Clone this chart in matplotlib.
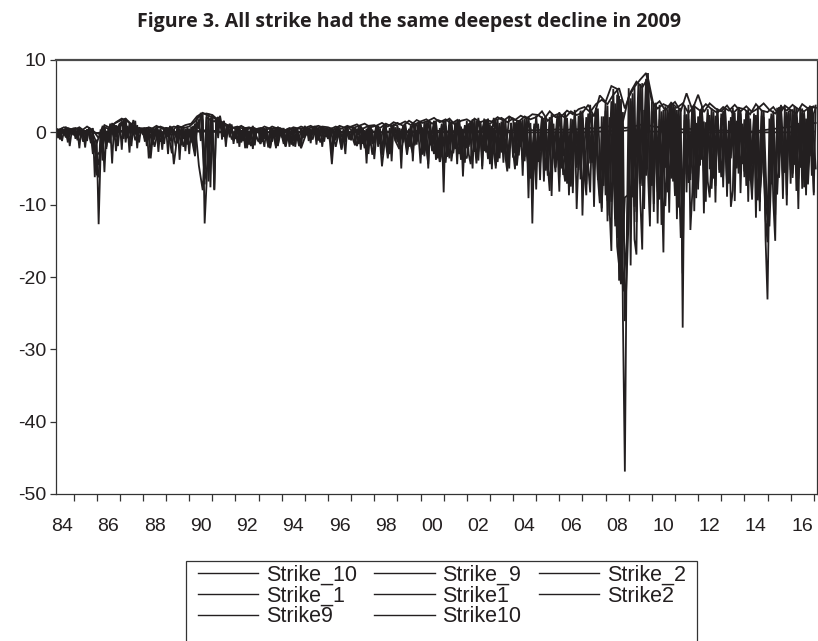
import numpy as np
import matplotlib
matplotlib.use("Agg")
import matplotlib.pyplot as plt
from matplotlib.lines import Line2D
from matplotlib.patches import Rectangle
from matplotlib.ticker import FixedLocator, FuncFormatter

plt.rcParams['axes.unicode_minus'] = False

# monthly series, first value is April 1984
strike_m10 = [
    0.3, -0.8, 0.5, -1.2, 0.2, -0.5, 0.6, -1.9, 0.1,
    -0.4, 0.5, -1.1, 0.3, -0.6, 0.2, -2.1, 0.4, -0.3, -1.5, 0.6, -6.2,
    -1.0, -12.7, -3.0, 0.5, -5.5, 0.2, -1.2, 0.8, -4.3, 1.1, -2.6, 0.4,
    1.3, -2.4, 1.8, -1.4, 0.9, -2.8, 1.2, -0.4, 1.6, -2.2, 0.7, 0.2,
    -0.3, 0.6, -1.9, 0.4, -3.6, -0.8, 0.5, -0.2, -1.1, 0.3, -2.4, 0.6,
    -0.5, 0.7, -1.4, -2.9, 0.4, -0.6, 1.0, -3.8, 0.2, -0.9, 0.5, -1.7,
    0.3, -1.4, 0.9, -3.0, 0.6, 1.8, -1.2, 2.4, -12.6, -7.0, 2.6, -7.6,
    2.2, -8.0, 1.9, 0.6, 2.3, -1.0, 1.5, -2.0, 0.9, -0.4, 1.1, -1.2,
    -0.6, 0.8, -2.0, 0.3, -1.1, 0.6, -2.2, 0.2, -0.7, 0.9, -1.8, 0.4,
    0.2, -1.5, 0.7, -0.9, 0.3, -2.1, 0.6, -1.3, 0.4, -2.2, 0.8, -0.5,
    0.5, -1.2, -1.9, 0.3, -0.6, -1.4, 0.7, -2.0, 0.2, -1.1, 0.5, -0.8,
    0.9, -0.4, 0.6, -1.5, 0.8, -0.3, 0.4, -1.1, 0.7, -2.0, 0.3, -0.2,
    0.5, -1.3, -4.4, -1.0, 0.6, -0.7, 0.4, -1.5, -0.5, -3.0, 0.8, 0.6,
    0.3, -1.0, -1.8, 0.5, -0.4, 0.9, -1.6, 0.3, -4.3, 0.7, -1.8, 0.4,
    -3.7, -0.6, 0.4, -1.3, -4.7, -2.3, 0.9, -1.9, -2.1, 1.1, -0.5, 0.7,
    -1.4, 0.6, -5.0, 0.9, -0.8, -2.3, 0.5, -1.9, -2.9, 0.8, 1.2, -0.6,
    -4.3, 0.7, -2.6, 1.3, -5.0, 1.5, -2.0, 1.2, -3.8, -1.1, -4.1, 0.9,
    -8.3, 1.6, -2.6, 1.0, -4.0, -1.9, 1.4, -1.8, -3.0, 0.8, -6.1, -0.5,
    -2.2, 1.2, -0.9, -5.0, 1.8, -3.3, -2.6, 1.5, -5.1, 1.9, -0.6, -3.7,
    1.1, -5.1, 0.6, -5.0, -1.5, 1.3, -2.8, 0.8, -3.3, -5.4, -1.2, 0.9,
    -3.5, 1.4, -4.2, 0.7, -2.0, 1.8, -4.0, 1.2, -9.1, 0.6, -12.6, -1.0,
    -7.9, 1.0, -2.6, 1.7, -6.8, 0.8, -3.5, 2.1, -8.8, 1.2, -4.9, -1.9,
    -8.2, 2.4, -4.7, -6.8, 1.5, -8.7, 0.6, -4.0, 2.6, -10.6, -3.2, 2.8,
    -11.5, -2.3, 2.1, -4.6, -8.3, 1.2, -5.5, 3.0, -6.6, -3.6, -11.0, 1.4,
    -8.7, 3.7, -10.2, -16.4, 4.2, -12.0, 5.2, -20.5, 4.6, -25.8, -46.9, -14.5,
    6.1, -18.4, 3.5, -14.8, -16.9, 4.8, -9.2, -16.2, 3.1, -6.0, 8.2, -11.8,
    2.9, -11.0, 4.0, -12.6, 1.8, -5.4, -16.6, 3.6, -8.3, 2.7, -6.4, 3.9,
    -6.9, 2.5, -10.4, 3.4, -27.0, 1.7, -5.8, 3.8, -13.5, -8.3, 3.0, -9.1,
    2.2, -4.6, 3.6, -11.2, 1.4, -6.8, -9.0, -3.5, 2.9, -9.7, 3.3, -5.2,
    2.0, -7.6, 3.1, -3.9, 1.6, -10.3, -8.0, 2.7, -5.0, 3.5, -8.4, 1.2,
    -6.2, 3.0, -9.6, 1.9, -4.4, 2.6, -11.8, 0.9, -8.2, -5.5, 2.1, -14.8,
    -23.1, -6.0, 2.2, -9.5, -15.0, 3.4, -6.3, 1.5, -9.2, 3.6, -8.7, 2.5,
    -7.1, 3.2, -4.5, 1.8, -10.6, 3.5, -7.8, 2.8, -8.7, 3.4, -3.3, 3.6,
    -8.7, 3.7,
]

strike_m9 = [
    -0.5, 0.4, -1.0, 0.6, -0.3, 0.8, -1.4, 0.5, -0.2,
    0.6, -0.9, 0.4, -2.2, 0.5, -0.7, 0.3, -1.2, 0.7, -0.4, -3.0, -1.1,
    -5.8, -6.2, 0.4, -3.9, 0.9, -2.3, 0.6, -1.5, 1.3, -0.8, 1.0, -1.9,
    0.8, 1.5, -0.9, 1.9, -0.6, 1.2, -1.9, 0.9, -0.3, 1.0, -1.4, 0.5,
    0.4, -1.3, 0.7, -3.6, -2.2, 0.6, -1.0, 0.8, -2.7, 0.5, -0.4, -1.6,
    0.6, -3.0, 0.9, -1.1, -4.4, -2.3, 0.7, -0.6, -1.8, 0.8, -2.6, 0.4,
    -3.0, 0.8, -1.9, -3.3, 1.4, 0.5, 2.7, 1.6, -7.2, 2.5, -6.8, 1.8,
    2.4, -7.9, 2.0, -0.8, 2.2, 0.4, 1.6, -1.3, 1.0, -0.7, 0.9, -1.6,
    0.7, -1.5, 0.5, -0.9, 0.8, -2.2, 0.4, -1.0, 0.6, -2.3, 0.5, -0.8,
    -1.3, 0.6, -0.7, -2.0, 0.5, -1.1, -2.2, 0.4, -0.8, 0.7, -1.9, 0.3,
    -0.7, 0.6, -1.6, 0.4, -2.0, 0.5, -0.9, -1.6, 0.6, -1.3, -2.1, 0.4,
    -0.6, 0.7, -1.2, 0.5, -0.4, 0.9, -1.7, 0.6, -0.5, 0.8, -1.3, 0.5,
    -0.8, 0.6, -3.2, 0.4, -1.1, 0.7, -0.6, -2.2, 0.5, -1.4, 0.6, -0.5,
    -0.9, 0.7, -1.2, -0.4, 0.8, -2.4, 0.6, -1.1, 0.5, -3.0, 0.8, -1.6,
    -0.7, 0.9, -2.0, 0.5, -3.2, 0.7, -1.5, -2.8, 0.6, -4.0, 1.0, -1.2,
    0.8, -2.2, 0.5, -1.4, 1.0, -2.6, -0.8, 0.9, -4.0, 1.2, -1.7, 1.4,
    0.9, -3.1, 1.5, -2.2, -4.4, 0.8, -1.5, -3.0, 1.4, -2.4, 0.6, -3.2,
    -4.6, 0.9, -1.9, -3.6, 1.5, -2.4, 0.7, -4.4, 1.2, -2.9, 0.5, -4.2,
    1.6, -3.0, -4.4, 0.8, -2.0, 1.6, -3.9, 0.9, -4.7, 0.6, -2.8, 1.4,
    -4.4, 0.9, -2.8, -4.6, 1.7, -3.6, 0.7, -4.2, 1.8, -2.1, -5.0, 1.3,
    -2.6, -5.1, 1.6, -3.2, 0.9, -6.0, 1.9, -2.8, -4.9, 1.3, -7.6, 0.8,
    -4.8, 1.2, -6.6, 0.7, -3.4, 2.0, -4.5, -8.1, 1.4, -2.8, -5.5, 1.8,
    -6.2, 0.9, -3.3, 1.8, -7.1, -2.6, 1.9, -8.4, 0.6, -4.9, 2.3, -6.5,
    2.0, -5.8, -8.7, 1.5, -4.3, 2.6, -10.3, 0.9, -6.2, -9.8, 2.2, -7.4,
    3.0, -12.3, 2.1, -9.6, -6.1, 4.0, -14.6, 1.6, -20.8, 2.8, -26.1, -19.6,
    -11.5, 4.3, -9.0, 6.3, -12.4, 2.0, -7.1, 6.8, -10.6, 3.9, -5.4, -13.0,
    4.2, -9.9, 2.1, -6.5, 3.8, -12.8, 1.4, -4.9, 3.2, -11.1, 2.0, -6.8,
    3.5, -12.0, 0.9, -4.6, -19.5, 3.7, -8.3, 1.8, -5.7, 3.4, -10.9, 1.3,
    -7.9, 3.0, -3.8, 1.5, -9.6, 2.7, -5.1, 3.3, -2.9, -7.4, 1.9, -5.6,
    2.6, -6.0, 3.4, -8.9, 1.1, -3.6, 2.8, -9.5, 1.6, -5.7, 3.1, -3.0,
    1.8, -7.4, 2.7, -5.2, -9.3, 1.4, -6.6, 3.5, -10.9, 2.3, -4.7, -12.0,
    -15.2, 1.9, -7.2, 3.0, -11.4, 1.7, -4.2, 3.8, -6.5, 2.2, -10.1, 2.9,
    3.0, -5.7, 2.4, -8.1, 1.3, -4.3, 3.3, -7.6, 1.9, -5.5, 3.2, -6.0,
    2.6, 3.4,
]

# every second month, first value April 1984
strike_m2 = [
    0.2, -0.6, 0.4, -1.0, 0.3,
    -0.5, 0.6, -1.3, 0.4, -0.8, -2.4,
    -4.5, 0.6, -2.0, 1.2, -0.9, 0.8,
    1.4, 0.9, -1.2, 1.7, -0.5, 0.6,
    -0.9, 0.5, -1.7, 0.7, -1.3, 0.4,
    -0.6, 0.8, -1.9, 0.5, -2.0, 0.6,
    -1.0, 1.2, -4.6, -8.0, 2.1, 1.7,
    1.5, 2.1, 0.8, -0.9, 1.2, -0.5,
    0.6, -1.4, 0.7, -1.7, 0.5, -0.7,
    -1.6, 0.6, -1.9, 0.5, -2.0, 0.7,
    -1.6, 0.5, -1.7, 0.6, -1.9, 0.3,
    0.6, -0.9, 0.7, -1.1, 0.8, -0.6,
    0.5, -1.5, 0.7, -2.4, 0.6, -1.0,
    0.8, -1.9, 0.6, -2.2, 0.9, -3.1,
    0.7, -1.6, 1.0, -3.6, 0.8, -1.2,
    -2.3, 1.0, -3.1, 0.9, -1.8, 1.3,
    -2.9, 1.4, -1.8, 1.6, -3.6, 1.2,
    -4.2, 1.7, -2.9, 1.5, -3.8, 1.0,
    -2.0, 1.8, -4.3, 1.4, -2.6, 1.9,
    -3.5, 1.6, -2.4, 1.9, -4.8, 1.3,
    -2.9, 1.7, -3.8, 2.0, -6.4, 1.2,
    -4.1, 2.2, -5.3, 1.5, -3.6, 2.4,
    -5.0, 2.7, -6.8, 1.8, -4.5, 3.0,
    -6.1, 2.6, -4.2, 3.4, -8.8, 2.2,
    -9.5, 4.3, -13.0, 5.0, -22.0, -15.2,
    4.7, -10.3, 6.6, -7.4, 7.4, -5.1,
    3.8, -8.2, 2.9, -10.2, 3.6, -4.6,
    3.1, -14.6, 2.4, -7.0, 3.7, -6.2,
    2.7, -5.5, 3.2, -7.8, 2.3, -4.0,
    3.0, -6.9, 2.1, -5.3, 3.5, -4.4,
    2.6, -6.7, 2.0, -9.4, 3.1, -10.2,
    -13.0, 2.4, -8.6, 3.3, -5.6, 2.7,
    -6.3, 3.4, -4.9, 2.6, -7.2, 3.5,
    -5.0,
]

# every second month, first value May 1984
strike_m1 = [
    -0.3, 0.5, -0.7, 0.2,
    0.4, -0.8, 0.3, -1.0, 0.5, -1.8,
    -3.2, -2.6, 0.7, -1.4, 0.9, -0.6,
    0.7, 1.6, -0.8, 1.3, -1.1, 0.4,
    0.5, -1.1, 0.6, -2.0, 0.4, -0.8,
    0.7, -1.2, 0.4, -1.5, 0.6, -0.9,
    0.5, -1.8, 1.9, 2.4, -6.5, -4.0,
    2.2, 1.8, 1.0, -0.6, 1.1, -0.9,
    -0.8, 0.7, -1.2, 0.6, -1.9, 0.4,
    0.5, -1.3, 0.6, -2.1, 0.4, -1.7,
    0.6, -2.0, 0.4, -1.9, 0.5, -2.2,
    -0.7, 0.6, -1.0, 0.8, -1.4, 0.5,
    -0.9, 0.6, -2.0, 0.5, -1.3, 0.7,
    -1.1, 0.7, -1.6, 0.6, -2.6, 0.8,
    -1.4, 0.9, -2.5, 0.7, -3.0, 1.1,
    0.9, -2.8, 1.2, -2.0, 1.4, -1.3,
    1.5, -3.3, 1.7, -2.6, 1.4, -4.1,
    1.6, -3.4, 1.2, -2.3, 1.8, -2.9,
    -3.6, 1.5, -2.7, 2.0, -3.2, 1.7,
    -2.3, 2.0, -4.1, 1.5, -3.0, 2.1,
    1.9, -4.6, 1.6, -3.4, 2.2, -5.0,
    2.3, -4.4, 1.8, -6.0, 2.5, -4.8,
    2.8, -5.9, 2.0, -7.5, 3.1, -5.2,
    3.0, -7.2, 3.8, -5.5, 3.3, -10.5,
    4.1, -11.5, 6.0, -15.8, -21.0, -9.0,
    -8.6, 5.4, -11.0, 6.7, -6.5, 7.7,
    -7.4, 4.1, -9.3, 3.1, -6.0, 4.0,
    -8.8, 3.2, -12.2, 2.5, -6.6, 3.9,
    -7.0, 3.0, -5.8, 2.4, -6.4, 3.1,
    -6.2, 2.8, -7.1, 3.4, -4.9, 2.6,
    -5.4, 3.2, -8.1, 2.4, -9.6, 3.0,
    -12.4, 2.6, -7.7, 3.5, -6.1, 2.8,
    -5.2, 3.6, -6.4, 2.7, -4.8, 3.7,
    -8.2,
]

# quarterly, first value April 1984
strike_p1 = [
    0.5, 0.2, 0.6,
    0.3, 0.7, 0.1, 0.4,
    -1.5, 0.8, 0.5, 1.2,
    1.6, 1.9, 1.1, 0.6,
    0.3, 0.7, 0.4, 0.8,
    0.5, 0.2, 0.9, 0.6,
    0.8, 1.5, 2.5, 2.6,
    2.4, 1.7, 1.3, 0.8,
    0.5, 0.9, 0.4, 0.7,
    0.3, 0.8, 0.5, 0.6,
    0.4, 0.2, 0.7, 0.5,
    0.6, 0.9, 0.5, 0.8,
    0.7, 0.4, 0.9, 0.6,
    0.8, 1.1, 0.5, 0.9,
    1.0, 0.6, 1.2, 0.8,
    1.3, 0.9, 1.6, 1.1,
    1.5, 1.8, 1.2, 1.7,
    1.4, 1.9, 1.0, 1.6,
    1.8, 1.3, -1.8, 1.5,
    1.2, 1.7, 2.0, 1.4,
    1.9, 1.5, 2.2, 1.8,
    2.1, 2.9, 1.6, 2.3,
    2.6, 2.0, 2.9, 2.4,
    2.7, 3.8, 2.2, 5.1,
    4.2, 6.4, 6.0, 1.5,
    4.9, 6.3, 7.3, 8.2,
    4.3, 3.3, 3.9, 3.5,
    4.2, 2.9, 5.4, 3.1,
    5.2, 2.8, 4.0, 3.3,
    2.9, 3.7, 2.6, 3.4,
    3.2, 2.5, 3.9, 3.0,
    2.8, 3.5, 2.4, 3.7,
    3.1, 2.6, 3.9, 3.3,
    3.6,
]

# quarterly, first value May 1984
strike_p2 = [
    0.3, 0.7, 0.4,
    0.6, 0.2, 0.8, 0.3,
    -0.8, 1.0, 0.6, 1.4,
    1.9, 1.5, 0.8, 0.5,
    0.6, 0.4, 0.9, 0.5,
    0.3, 0.8, 0.6, 1.0,
    1.2, 2.2, 2.7, 2.3,
    2.0, 1.4, 0.9, 0.6,
    0.8, 0.5, 0.7, 0.4,
    0.6, 0.3, 0.8, 0.5,
    0.2, 0.6, 0.4, 0.8,
    0.5, 0.7, 0.9, 0.6,
    0.4, 0.8, 0.5, 0.9,
    0.6, 0.9, 1.2, 0.7,
    0.9, 1.3, 0.8, 1.4,
    1.1, 1.5, 1.0, 1.7,
    1.3, 1.6, 2.0, 1.4,
    1.8, 1.2, 1.7, -1.5,
    1.1, 1.9, 1.4, 1.7,
    1.5, 2.1, 1.6, 2.2,
    1.7, 2.3, 1.9, 2.5,
    2.4, 1.8, 2.9, 2.1,
    2.2, 3.0, 2.5, 3.2,
    3.5, 2.8, 3.9, 4.5,
    3.9, 5.2, 6.1, 3.3,
    5.6, 7.0, 6.2, 7.5,
    3.6, 4.3, 3.0, 4.1,
    3.4, 4.0, 2.7, 3.6,
    3.0, 3.9, 3.2, 2.7,
    3.5, 3.0, 3.8, 2.9,
    3.6, 2.8, 3.3, 4.0,
    3.1, 2.6, 3.6, 3.0,
    3.8, 3.2, 2.9, 3.5,
    3.4,
]

# quarterly, first value May 1984
strike_p9 = [
    0.1, -0.1, 0.0,
    0.1, 0.0, -0.1, 0.1,
    -0.2, 0.1, 0.0, 0.1,
    0.2, 0.1, 0.0, 0.1,
    0.0, 0.1, -0.1, 0.0,
    0.1, 0.0, 0.1, 0.0,
    0.1, 0.2, 0.3, 0.2,
    0.2, 0.1, 0.1, 0.0,
    0.0, 0.1, 0.0, 0.1,
    0.0, 0.0, 0.1, 0.0,
    0.1, 0.0, 0.0, 0.1,
    0.0, 0.1, 0.0, 0.1,
    0.1, 0.0, 0.1, 0.0,
    0.1, 0.1, 0.0, 0.1,
    0.1, 0.0, 0.1, 0.1,
    0.1, 0.2, 0.1, 0.2,
    0.2, 0.1, 0.2, 0.2,
    0.1, 0.2, 0.1, 0.2,
    0.2, 0.1, 0.2, 0.1,
    0.2, 0.2, 0.3, 0.2,
    0.3, 0.2, 0.3, 0.3,
    0.3, 0.4, 0.3, 0.4,
    0.4, 0.3, 0.5, 0.4,
    0.5, 0.6, 0.5, 0.7,
    0.8, 0.9, 1.0, 0.6,
    0.7, 0.9, 1.1, 1.0,
    0.8, 0.7, 0.6, 0.5,
    0.6, 0.4, 0.5, 0.4,
    0.3, 0.4, 0.3, 0.2,
    0.3, 0.2, 0.2, 0.1,
    0.2, 0.1, 0.2, 0.3,
    0.4, 0.5, 0.6, 0.7,
    0.8, 0.9, 1.0, 1.2,
    1.3,
]

# quarterly, first value April 1984
strike_p10 = [
    0.0, 0.0, 0.1,
    0.0, 0.0, 0.0, 0.0,
    -0.1, 0.0, 0.0, 0.0,
    0.1, 0.0, 0.0, 0.0,
    0.0, 0.0, 0.0, 0.0,
    0.0, 0.0, 0.0, 0.0,
    0.0, 0.1, 0.1, 0.1,
    0.1, 0.0, 0.0, 0.0,
    0.0, 0.0, 0.0, 0.0,
    0.0, 0.0, 0.0, 0.0,
    0.0, 0.0, 0.0, 0.0,
    0.0, 0.0, 0.0, 0.0,
    0.0, 0.0, 0.0, 0.0,
    0.0, 0.0, 0.0, 0.0,
    0.0, 0.0, 0.0, 0.0,
    0.0, 0.0, 0.0, 0.0,
    0.0, 0.0, 0.0, 0.0,
    0.0, 0.0, 0.0, 0.0,
    0.0, 0.0, 0.0, 0.0,
    0.0, 0.0, 0.0, 0.0,
    0.0, 0.0, 0.0, 0.0,
    0.0, 0.0, 0.0, 0.0,
    0.0, 0.0, 0.0, 0.0,
    0.0, 0.0, 0.1, 0.1,
    0.1, 0.2, 0.1, 0.2,
    0.3, 0.3, 0.2, 0.2,
    0.1, 0.1, 0.1, 0.0,
    0.0, 0.0, 0.0, 0.0,
    0.0, 0.0, 0.0, 0.0,
    0.0, 0.0, 0.0, 0.0,
    0.0, 0.0, 0.0, 0.0,
    0.0, 0.0, 0.0, 0.0,
    0.0, 0.1, 0.1, 0.1,
    0.1,
]

series = [
    ("Strike_10", strike_m10, 1984 + 3 / 12, 1),
    ("Strike_9", strike_m9, 1984 + 3 / 12, 1),
    ("Strike_2", strike_m2, 1984 + 3 / 12, 2),
    ("Strike_1", strike_m1, 1984 + 4 / 12, 2),
    ("Strike1", strike_p1, 1984 + 3 / 12, 3),
    ("Strike2", strike_p2, 1984 + 4 / 12, 3),
    ("Strike9", strike_p9, 1984 + 4 / 12, 3),
    ("Strike10", strike_p10, 1984 + 3 / 12, 3),
]

y_ticks = [10, 0, -10, -20, -30, -40, -50]
year_labels = list(range(1984, 2017, 2))

ink = "#231f20"
W, H = 818, 641

fig = plt.figure(figsize=(W / 100, H / 100), dpi=100)
ax = fig.add_axes([56 / W, 1 - 494 / H, 761 / W, 434 / H])

lines = {}
for name, vals, start, step in series:
    x = start + np.arange(len(vals)) * step / 12
    (ln,) = ax.plot(x, vals, color=ink, lw=1.3, solid_joinstyle="miter")
    lines[name] = ln

ax.set_xlim(1984.24, 2017.14)
ax.set_ylim(-50, 10)

ax.xaxis.set_major_locator(FixedLocator(np.arange(1985, 2018)))
ax.xaxis.set_major_formatter(FuncFormatter(lambda v, p: ""))
ax.xaxis.set_minor_locator(FixedLocator([y + 0.5 for y in year_labels]))
ax.xaxis.set_minor_formatter(FuncFormatter(lambda v, p: "%02d" % (int(v) % 100)))
ax.tick_params(axis="x", which="major", direction="out", length=5, width=0.9, color="#333333")
ax.tick_params(axis="x", which="minor", length=0, pad=17, labelsize=14, labelcolor=ink)
ax.set_yticks(y_ticks)
ax.set_yticklabels([str(v) for v in y_ticks])
ax.tick_params(axis="y", direction="out", length=4, width=0.9, color="#333333",
               labelsize=14, labelcolor=ink, pad=3)
for lab in ax.get_xticklabels(minor=True) + ax.get_yticklabels():
    lab.set_family(["Liberation Sans"])

for s in ["left", "bottom", "right"]:
    ax.spines[s].set_color("#333333")
    ax.spines[s].set_linewidth(0.9)
ax.spines["top"].set_color("#4a4a4a")
ax.spines["top"].set_linewidth(1.6)

fig.text(0.5, 1 - 22 / H, "Figure 3. All strike had the same deepest decline in 2009",
         ha="center", va="center", fontsize=14, fontweight="bold",
         family=["Open Sans", "DejaVu Sans"], color=ink)

# legend box is cut by the bottom edge of the picture
fig.patches.append(Rectangle((186 / W, -0.02), (697 - 186) / W, 0.02 + (641 - 561) / H,
                             transform=fig.transFigure, fill=False,
                             edgecolor="#333333", lw=0.9))

order = ["Strike_10", "Strike_1", "Strike9", "Strike_9", "Strike1", "Strike10",
         "Strike_2", "Strike2"]
handles = [Line2D([], [], color=ink, lw=1.0) for _ in order]
leg = fig.legend(handles, order, ncol=3, loc="upper left",
                 bbox_to_anchor=(198 / W, 1 - 565 / H), borderaxespad=0,
                 frameon=False, borderpad=0,
                 handlelength=2.8, handletextpad=0.37, columnspacing=0.79,
                 labelspacing=-0.02,
                 prop={"family": ["Liberation Sans"], "size": 15.5})
for t in leg.get_texts():
    t.set_color(ink)

fig.savefig("out.png", dpi=100)
